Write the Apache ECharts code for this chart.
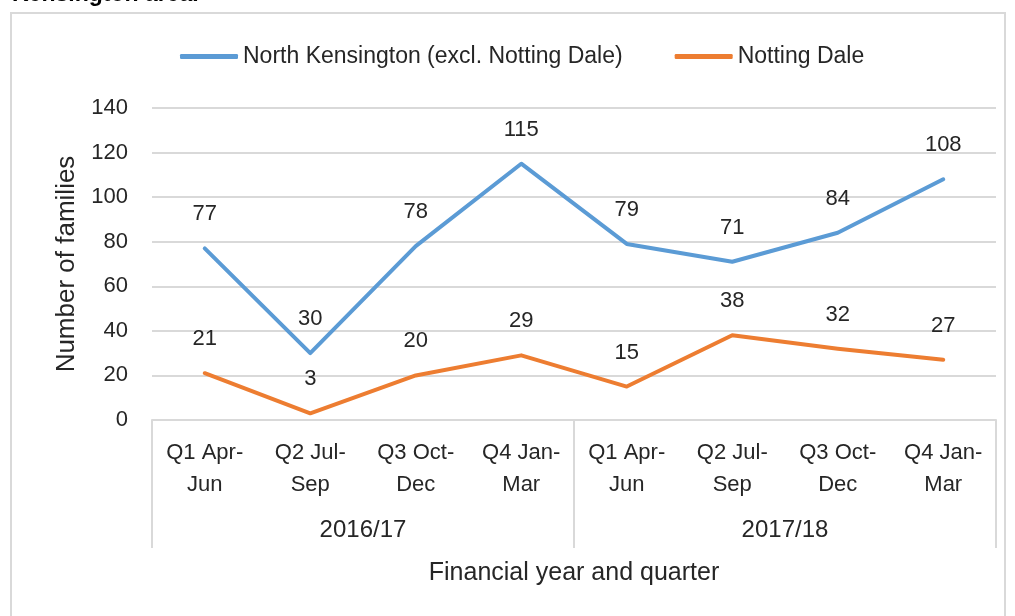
<!DOCTYPE html>
<html>
<head>
<meta charset="utf-8">
<script src="https://cdn.jsdelivr.net/npm/echarts@6/dist/echarts.min.js"></script>
<style>
  html, body { margin: 0; padding: 0; background: #fff; }
  #chart { width: 1015px; height: 616px; }
</style>
</head>
<body>
<div id="chart"></div>
<script>
// quarters, two financial years
const quarters = ['Q1 Apr-\nJun', 'Q2 Jul-\nSep', 'Q3 Oct-\nDec', 'Q4 Jan-\nMar',
                  'Q1 Apr-\nJun', 'Q2 Jul-\nSep', 'Q3 Oct-\nDec', 'Q4 Jan-\nMar'];
const years = ['2016/17', '2017/18'];
const northKensington = [77, 30, 78, 115, 79, 71, 84, 108];
const nottingDale = [21, 3, 20, 29, 15, 38, 32, 27];

const FONT = '"Liberation Sans", Arial, sans-serif';
const TXT = '#262626';
const LINE = '#d9d9d9';

const chart = echarts.init(document.getElementById('chart'));

const lineSeries = (name, data, color) => ({
    name: name,
    type: 'line',
    data: data,
    symbol: 'circle',
    symbolSize: 0,
    lineStyle: { color: color, width: 4, cap: 'round', join: 'round' },
    itemStyle: { color: color },
    label: {
        show: true,
        position: 'top',
        distance: 23,
        color: TXT,
        fontFamily: FONT,
        fontSize: 22
    }
});

chart.setOption({
    animation: false,
    textStyle: { fontFamily: FONT },
    graphic: [
        {
            type: 'rect',
            shape: { x: 11, y: 13, width: 994, height: 640 },
            style: { fill: 'none', stroke: LINE, lineWidth: 2 }
        },
        {
            type: 'text',
            left: 12,
            top: -17,
            style: {
                text: 'Kensington area.',
                font: 'bold 23px "Liberation Sans", Arial, sans-serif',
                fill: '#000'
            }
        }
    ],
    legend: {
        top: 40,
        left: 175,
        itemWidth: 58,
        itemHeight: 5,
        itemGap: 52,
        icon: 'roundRect',
        textStyle: { color: TXT, fontSize: 23, fontFamily: FONT, padding: [0, 0, 0, 0] },
        data: ['North Kensington (excl. Notting Dale)', 'Notting Dale']
    },
    grid: { left: 152, right: 19, top: 108, bottom: 196 },
    xAxis: [
        {
            type: 'category',
            data: quarters,
            position: 'bottom',
            axisLine: { show: true, lineStyle: { color: LINE, width: 2 } },
            axisTick: { show: false },
            axisLabel: {
                color: TXT,
                fontSize: 22,
                lineHeight: 32,
                margin: 17,
                interval: 0
            },
            name: 'Financial year and quarter',
            nameLocation: 'middle',
            nameGap: 141,
            nameTextStyle: { color: TXT, fontSize: 25, fontFamily: FONT }
        },
        {
            type: 'category',
            data: years,
            position: 'bottom',
            axisLine: { show: false },
            axisTick: { show: true, length: 128, interval: 0, lineStyle: { color: LINE, width: 2 } },
            axisLabel: { color: TXT, fontSize: 24, margin: 98 },
            splitLine: { show: false }
        }
    ],
    yAxis: {
        type: 'value',
        min: 0,
        max: 140,
        interval: 20,
        axisLine: { show: false },
        axisTick: { show: false },
        splitLine: { lineStyle: { color: LINE, width: 2 } },
        axisLabel: { color: TXT, fontSize: 22, margin: 24 },
        name: 'Number of families',
        nameLocation: 'middle',
        nameGap: 72,
        nameTextStyle: { color: TXT, fontSize: 26, fontFamily: FONT }
    },
    series: [
        lineSeries('North Kensington (excl. Notting Dale)', northKensington, '#5b9bd5'),
        lineSeries('Notting Dale', nottingDale, '#ed7d31')
    ]
});
</script>
</body>
</html>
